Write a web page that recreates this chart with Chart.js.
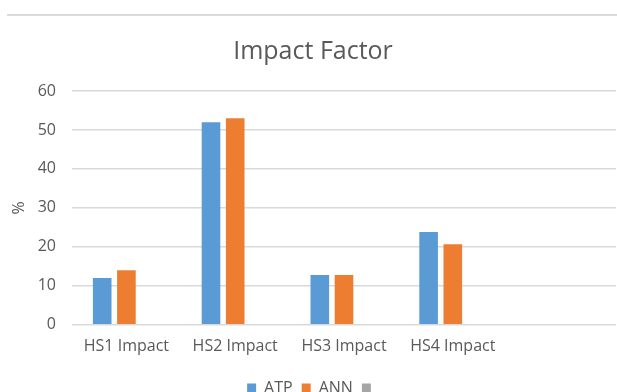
<!DOCTYPE html>
<html>
<head>
<meta charset="utf-8">
<script src="https://cdn.jsdelivr.net/npm/chart.js@4"></script>
<style>
  html, body { margin: 0; padding: 0; background: #fff; overflow: hidden; }
  #wrap { position: absolute; left: 0; top: 0; width: 617px; height: 406px; }
  #frame { position: absolute; left: 7px; top: 14px; width: 610px; height: 2px; background: #d9d9d9; }
</style>
</head>
<body>
<div id="frame"></div>
<div id="wrap"><canvas id="c" width="617" height="406"></canvas></div>
<script>
// Impact factor per hidden-state group, in percent
const categories = ['HS1 Impact', 'HS2 Impact', 'HS3 Impact', 'HS4 Impact', ''];
const atpValues = [12, 52, 12.8, 23.8, null];
const annValues = [14, 53, 12.8, 20.7, null];
const thirdValues = [null, null, null, null, null];
const yTicks = [0, 10, 20, 30, 40, 50, 60];

const textColor = '#595959';
const gridColor = '#d9d9d9';
const fontFamily = '"Open Sans", "Noto Sans", sans-serif';

new Chart(document.getElementById('c'), {
  type: 'bar',
  data: {
    labels: categories,
    datasets: [
      { label: 'ATP', data: atpValues, backgroundColor: '#5b9bd5' },
      { label: 'ANN', data: annValues, backgroundColor: '#ed7d31' },
      { label: '', data: thirdValues, backgroundColor: '#a5a5a5' }
    ]
  },
  options: {
    responsive: false,
    animation: false,
    devicePixelRatio: 1,
    barPercentage: 0.77,
    categoryPercentage: 0.667,
    layout: { padding: { left: 10, right: 1, top: 0, bottom: 0 } },
    plugins: {
      title: {
        display: true,
        text: 'Impact Factor',
        color: textColor,
        font: { family: fontFamily, size: 25, weight: 'normal' },
        padding: { top: 37, bottom: 24 }
      },
      legend: {
        position: 'bottom',
        labels: {
          color: textColor,
          font: { family: fontFamily, size: 16 },
          boxWidth: 9,
          boxHeight: 9,
          padding: 9
        }
      },
      tooltip: { enabled: false }
    },
    scales: {
      x: {
        grid: { display: false },
        border: { display: false },
        afterFit: (scale) => { scale.height += 11; },
        ticks: {
          color: textColor,
          font: { family: fontFamily, size: 16 },
          padding: 4,
          maxRotation: 0,
          autoSkip: false
        }
      },
      y: {
        min: 0,
        max: 60,
        afterBuildTicks: (scale) => { scale.ticks = yTicks.map(v => ({ value: v })); },
        afterFit: (scale) => { scale.width = 62; },
        grid: { color: gridColor, lineWidth: 1.5, drawTicks: false },
        border: { display: false },
        ticks: {
          color: textColor,
          font: { family: fontFamily, size: 16 },
          padding: 16
        },
        title: {
          display: true,
          text: '%',
          color: textColor,
          font: { family: fontFamily, size: 16 },
          padding: { top: 0, bottom: 0 }
        }
      }
    }
  }
});
</script>
</body>
</html>
